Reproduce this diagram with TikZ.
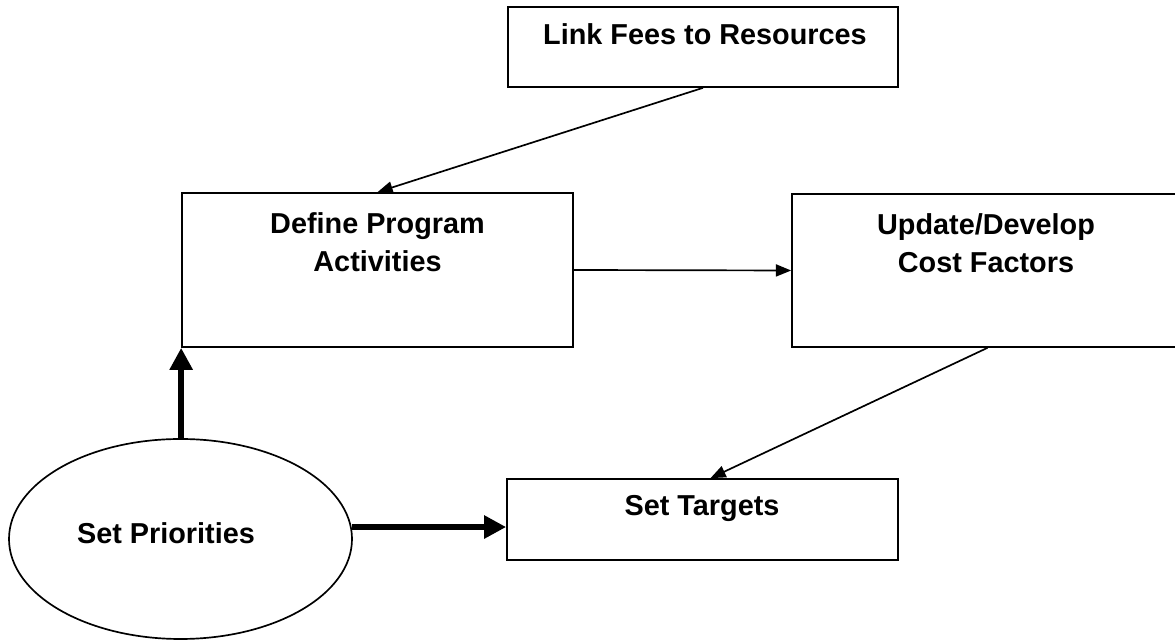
\documentclass[tikz,border=0pt]{standalone}
\usepackage{fontspec}
\setmainfont{Liberation Sans}
\usetikzlibrary{arrows.meta,shapes.geometric}
\begin{document}
\begin{tikzpicture}[
    box/.style={draw, line width=1.2pt, inner sep=0pt},
    txt/.style={font=\fontsize{20.5}{27}\selectfont\bfseries, align=center, anchor=north, inner sep=0pt},
    flow/.style={line width=1.2pt, -{Triangle[length=0.38cm,width=0.3cm]}},
    boldflow/.style={line width=4.3pt, -{Triangle[length=0.55cm,width=0.55cm]}}]
    \useasboundingbox (0,0) rectangle (29.375,16.025);
    \node[box, minimum width=9.75cm, minimum height=2cm] (link) at (17.575,14.85) {};
    \node[box, minimum width=9.775cm, minimum height=3.85cm] (define) at (9.4375,9.275) {};
    \node[box, minimum width=9.775cm, minimum height=3.825cm] (update) at (24.6875,9.2625) {};
    \node[box, minimum width=9.775cm, minimum height=2.025cm] (targets) at (17.5625,3.0375) {};
    \node[box, ellipse, minimum width=8.575cm, minimum height=5cm] (prio) at (4.5125,2.55) {};
    % texts near the top of each box
    \node[txt] (link text) at (17.625,15.45) {Link Fees to Resources};
    \node[txt] (define text) at (9.4375,10.725) {Define Program\\Activities};
    \node[txt] (update text) at (24.65,10.7) {Update/Develop\\Cost Factors};
    \node[txt] (targets text) at (17.55,3.65) {Set Targets};
    \node[txt] (prio text) at (4.15,2.975) {Set Priorities};
    \draw[flow] (link.south) -- (define.north);
    \draw[flow] (define.east) -- (update.west);
    \draw[flow] (update.south) -- ([xshift=0.2cm]targets.north);
    \draw[boldflow] (define.south west |- prio.north) -- (define.south west);
    \draw[boldflow] (prio.4) -- (prio.4 -| targets.west);
\end{tikzpicture}
\end{document}
